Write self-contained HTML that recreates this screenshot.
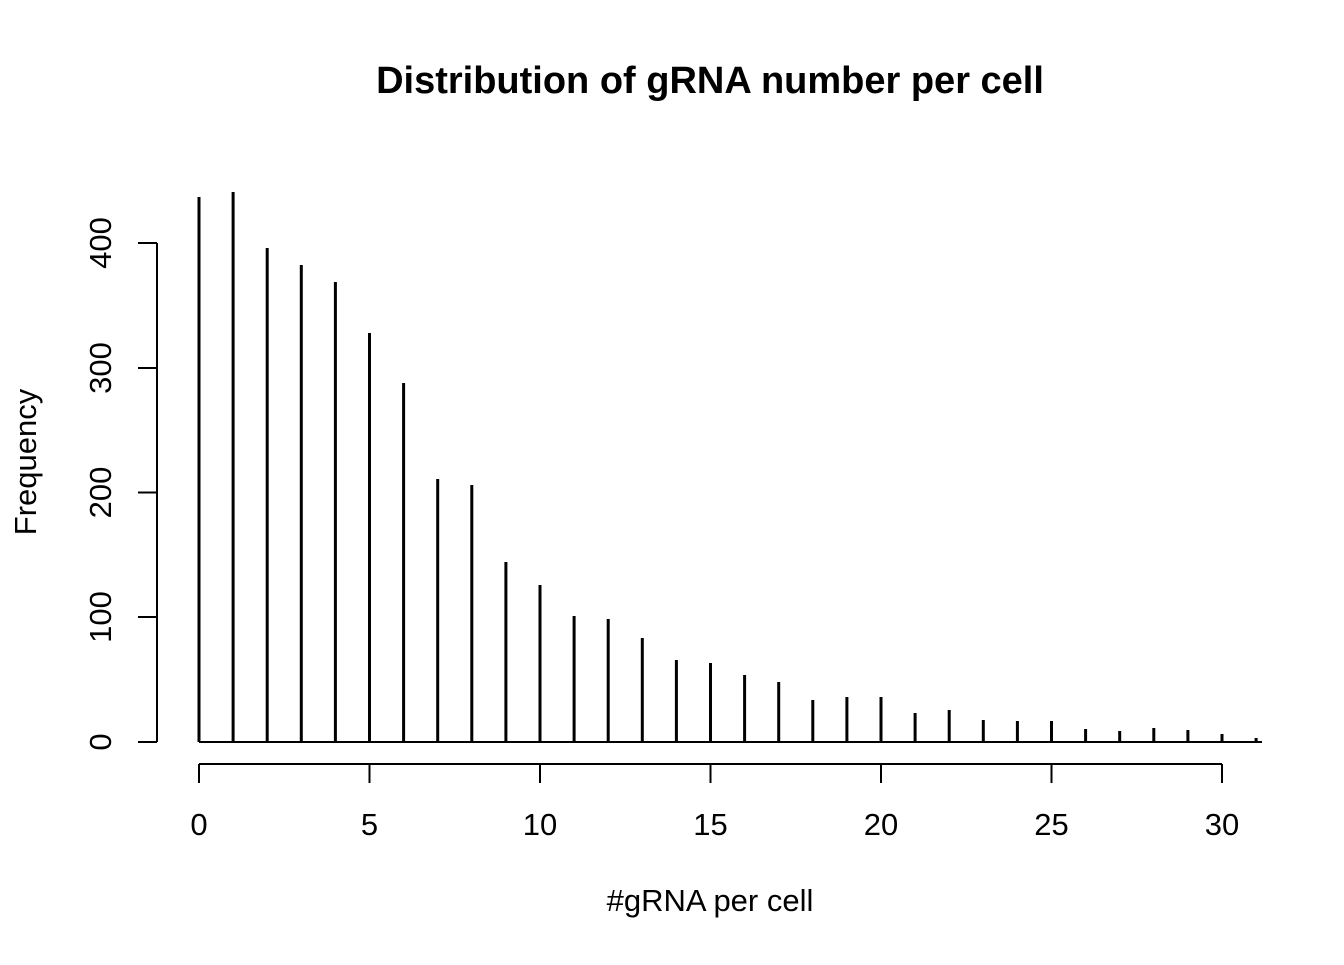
<!DOCTYPE html>
<html><head><style>body{margin:0;background:#fff}</style></head><body>
<svg width="1344" height="960" xmlns="http://www.w3.org/2000/svg" font-family="Liberation Sans, Arial, sans-serif">
<rect width="1344" height="960" fill="#fff"/>
<text x="710" y="93" font-size="38" font-weight="bold" text-anchor="middle">Distribution of gRNA number per cell</text>
<g stroke="#000" stroke-width="3">
<line x1="199" y1="742" x2="1262" y2="742" stroke-width="2"/>
<line x1="199.0" y1="742" x2="199.0" y2="197"/>
<line x1="233.1" y1="742" x2="233.1" y2="192"/>
<line x1="267.2" y1="742" x2="267.2" y2="248"/>
<line x1="301.3" y1="742" x2="301.3" y2="265"/>
<line x1="335.4" y1="742" x2="335.4" y2="282"/>
<line x1="369.5" y1="742" x2="369.5" y2="333"/>
<line x1="403.6" y1="742" x2="403.6" y2="383"/>
<line x1="437.7" y1="742" x2="437.7" y2="479"/>
<line x1="471.8" y1="742" x2="471.8" y2="485"/>
<line x1="505.9" y1="742" x2="505.9" y2="562"/>
<line x1="540.0" y1="742" x2="540.0" y2="585"/>
<line x1="574.1" y1="742" x2="574.1" y2="616"/>
<line x1="608.2" y1="742" x2="608.2" y2="619"/>
<line x1="642.3" y1="742" x2="642.3" y2="638"/>
<line x1="676.4" y1="742" x2="676.4" y2="660"/>
<line x1="710.5" y1="742" x2="710.5" y2="663"/>
<line x1="744.6" y1="742" x2="744.6" y2="675"/>
<line x1="778.7" y1="742" x2="778.7" y2="682"/>
<line x1="812.8" y1="742" x2="812.8" y2="700"/>
<line x1="846.9" y1="742" x2="846.9" y2="697"/>
<line x1="881.0" y1="742" x2="881.0" y2="697"/>
<line x1="915.1" y1="742" x2="915.1" y2="713"/>
<line x1="949.2" y1="742" x2="949.2" y2="710"/>
<line x1="983.3" y1="742" x2="983.3" y2="720"/>
<line x1="1017.4" y1="742" x2="1017.4" y2="721"/>
<line x1="1051.5" y1="742" x2="1051.5" y2="721"/>
<line x1="1085.6" y1="742" x2="1085.6" y2="729"/>
<line x1="1119.7" y1="742" x2="1119.7" y2="731"/>
<line x1="1153.8" y1="742" x2="1153.8" y2="728"/>
<line x1="1187.9" y1="742" x2="1187.9" y2="730"/>
<line x1="1222.0" y1="742" x2="1222.0" y2="734"/>
<line x1="1256.1" y1="742" x2="1256.1" y2="738"/>
</g>
<g stroke="#000" stroke-width="2" fill="none">
<line x1="199" y1="764" x2="1222" y2="764"/>
<line x1="199" y1="764" x2="199" y2="783"/>
<line x1="369.5" y1="764" x2="369.5" y2="783"/>
<line x1="540" y1="764" x2="540" y2="783"/>
<line x1="710.5" y1="764" x2="710.5" y2="783"/>
<line x1="881" y1="764" x2="881" y2="783"/>
<line x1="1051.5" y1="764" x2="1051.5" y2="783"/>
<line x1="1222" y1="764" x2="1222" y2="783"/>
<line x1="157" y1="243" x2="157" y2="742"/>
<line x1="138" y1="742" x2="157" y2="742"/>
<line x1="138" y1="617" x2="157" y2="617"/>
<line x1="138" y1="492.5" x2="157" y2="492.5"/>
<line x1="138" y1="368" x2="157" y2="368"/>
<line x1="138" y1="243" x2="157" y2="243"/>
</g>
<g font-size="31" text-anchor="middle">
<text x="199" y="835">0</text><text x="369.5" y="835">5</text><text x="540" y="835">10</text>
<text x="710.5" y="835">15</text><text x="881" y="835">20</text><text x="1051.5" y="835">25</text><text x="1222" y="835">30</text>
<text transform="translate(111,742) rotate(-90)">0</text>
<text transform="translate(111,617) rotate(-90)">100</text>
<text transform="translate(111,492.5) rotate(-90)">200</text>
<text transform="translate(111,368) rotate(-90)">300</text>
<text transform="translate(111,243) rotate(-90)">400</text>
<text x="710" y="911">#gRNA per cell</text>
<text transform="translate(36,462) rotate(-90)">Frequency</text>
</g>
</svg>
</body></html>
